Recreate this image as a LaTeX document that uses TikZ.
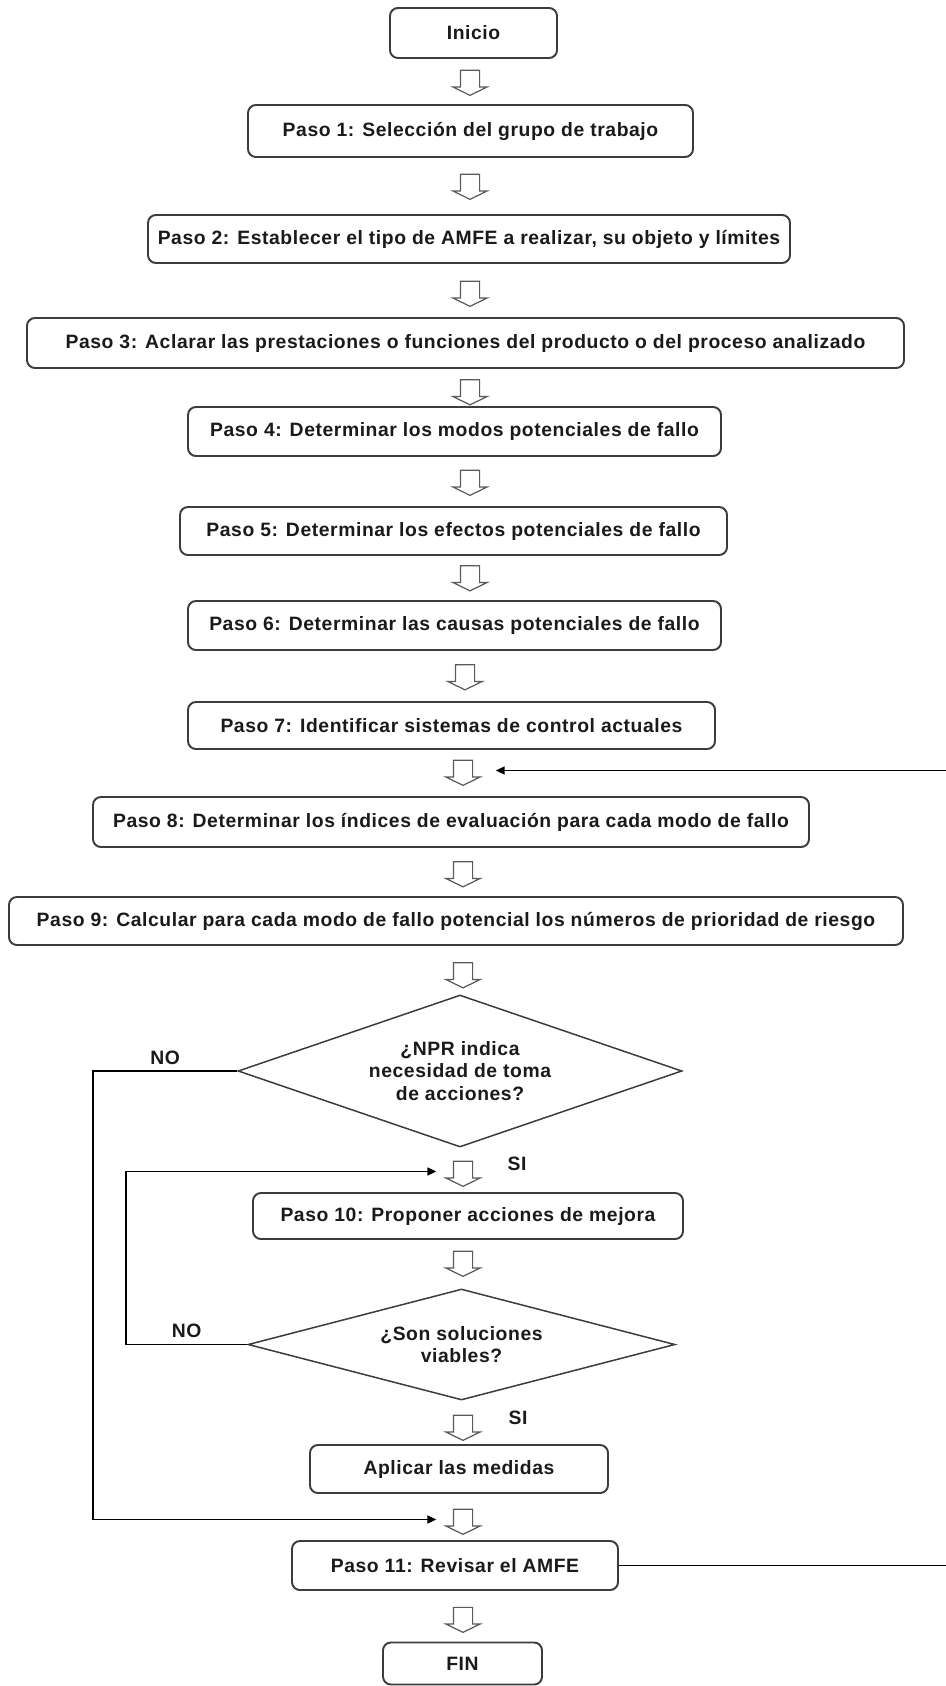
\documentclass[tikz,border=0pt]{standalone}
\usepackage{fontspec}
\newfontfamily\flowfont{Liberation Sans}[LetterSpace=3]
\usepackage{tikz}
\usetikzlibrary{shapes.geometric,shapes.arrows,arrows.meta}
\definecolor{fcText}{RGB}{26,26,26}
\definecolor{fcLine}{RGB}{60,60,60}
\definecolor{fcArrow}{RGB}{90,90,90}

\begin{document}
\begin{tikzpicture}[
  box/.style={
    draw=fcLine, line width=1.1pt, rounded corners=4.5pt,
    fill=white, minimum height=0.98cm, inner sep=0pt,
    align=center, text=fcText, font=\flowfont\bfseries\fontsize{11}{13}\selectfont
  },
  dbox/.style={
    diamond, draw=fcLine, line width=0.85pt, fill=white, inner sep=0pt,
    align=center, text=fcText, font=\flowfont\bfseries\fontsize{11}{13}\selectfont
  },
  harr/.style={
    single arrow, draw=fcArrow, line width=0.7pt, fill=white,
    shape border rotate=270, inner xsep=0.18cm, inner ysep=0.18cm,
    minimum height=0.5cm,
    single arrow head extend=0.15cm, single arrow tip angle=128
  },
  lbl/.style={text=fcText, font=\flowfont\bfseries\fontsize{11}{13}\selectfont},
  fbarr/.style={-{Triangle[length=5pt,width=4.5pt]}, line width=0.85pt, color=black},
]
\useasboundingbox (0,0) rectangle (18.9,-33.72);

%% Start
\node[box, minimum width=3.34cm, minimum height=1.0cm] (inicio) at (9.47, -0.66) {Inicio};
\node[harr] (a1) at (9.40, -1.61) {};

%% Steps 1 -- 3
\node[box, minimum width=8.9cm, minimum height=1.04cm] (p1) at (9.41, -2.62)
  {Paso 1: Selección del grupo de trabajo};
\node[harr] (a2) at (9.40, -3.69) {};
\node[box, minimum width=12.84cm, minimum height=0.96cm] (p2) at (9.38, -4.78)
  {Paso 2: Establecer el tipo de AMFE a realizar, su objeto y límites};
\node[harr] (a3) at (9.40, -5.83) {};
\node[box, minimum width=17.54cm, minimum height=1.0cm] (p3) at (9.31, -6.86)
  {Paso 3: Aclarar las prestaciones o funciones del producto o del proceso analizado};
\node[harr] (a4) at (9.40, -7.80) {};

%% Steps 4 -- 7
\node[box, minimum width=10.66cm] (p4) at (9.09, -8.63)
  {Paso 4: Determinar los modos potenciales de fallo};
\node[harr] (a5) at (9.40, -9.61) {};
\node[box, minimum width=10.94cm, minimum height=0.96cm] (p5) at (9.07, -10.62)
  {Paso 5: Determinar los efectos potenciales de fallo};
\node[harr] (a6) at (9.40, -11.52) {};
\node[box, minimum width=10.66cm] (p6) at (9.09, -12.51)
  {Paso 6: Determinar las causas potenciales de fallo};
\node[harr] (a7) at (9.30, -13.50) {};
\node[box, minimum width=10.54cm, minimum height=0.94cm] (p7) at (9.03, -14.51)
  {Paso 7: Identificar sistemas de control actuales};
\node[harr] (a8) at (9.26, -15.41) {};

%% Steps 8 -- 9
\node[box, minimum width=14.32cm, minimum height=1.0cm] (p8) at (9.02, -16.44)
  {Paso 8: Determinar los índices de evaluación para cada modo de fallo};
\node[harr] (a9) at (9.26, -17.44) {};
\node[box, minimum width=17.88cm, minimum height=0.96cm] (p9) at (9.12, -18.42)
  {Paso 9: Calcular para cada modo de fallo potencial los números de prioridad de riesgo};
\node[harr] (a10) at (9.26, -19.46) {};

%% Decision -- NPR
\node[dbox, minimum width=8.88cm, minimum height=3.04cm, aspect=2.9] (npr) at (9.20, -21.42)
  {¿NPR indica\\necesidad de toma\\de acciones?};
\node[harr] (a11) at (9.26, -23.43) {};
\node[lbl] (si1) at (10.34, -23.28) {SI};

%% Step 10 and decision -- viable
\node[box, minimum width=8.6cm, minimum height=0.92cm] (p10) at (9.36, -24.32)
  {Paso 10: Proponer acciones de mejora};
\node[harr] (a12) at (9.26, -25.23) {};
\node[dbox, minimum width=8.54cm, minimum height=2.22cm, aspect=3.85] (viab) at (9.23, -26.89)
  {¿Son soluciones\\viables?};
\node[harr] (a13) at (9.26, -28.51) {};
\node[lbl] (si2) at (10.36, -28.36) {SI};

%% Apply, step 11, end
\node[box, minimum width=5.96cm, minimum height=0.96cm] (aplicar) at (9.18, -29.38)
  {Aplicar las medidas};
\node[harr] (a14) at (9.26, -30.39) {};
\node[box, minimum width=6.52cm] (p11) at (9.10, -31.31) {Paso 11: Revisar el AMFE};
\node[harr] (a15) at (9.26, -32.35) {};
\node[box, minimum width=3.18cm, minimum height=0.84cm] (fin) at (9.25, -33.27) {FIN};

%% ── Loops ──────────────────────────────────────────
\coordinate (lout)  at (1.86, 0);
\coordinate (lin)   at (2.52, 0);
\coordinate (redge) at (19.1, 0);

% NO: straight to step 11
\draw[fbarr, shorten >=0.33cm] (npr.west) -- (npr.west -| lout)
  node[midway, above, lbl] {NO} |- (a14.west);

% NO: back to step 10
\draw[fbarr, shorten >=0.33cm] (viab.west) -- (viab.west -| lin)
  node[midway, above, lbl] {NO} |- (a11.west);

% review: back to step 8
\draw[fbarr, shorten >=0.45cm] (p11.east) -| (redge |- a8.east) -- (a8.east);

\end{tikzpicture}
\end{document}
